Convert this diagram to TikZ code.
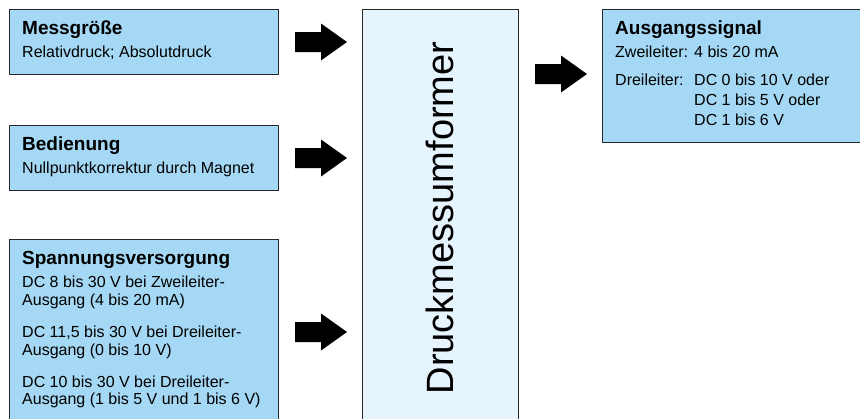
\documentclass[tikz,border=0pt]{standalone}
\usepackage{fontspec}
\setmainfont{Liberation Sans}
\definecolor{boxblue}{RGB}{164,216,244}
\definecolor{centerblue}{RGB}{230,244,253}
\definecolor{edgegray}{RGB}{40,40,40}
\tikzset{
  box/.style={draw=edgegray, line width=1.2pt, fill=boxblue, anchor=north west, inner sep=0pt},
  ttl/.style={anchor=base west, inner sep=0pt, font=\fontsize{19}{22}\selectfont\bfseries},
  txt/.style={anchor=base west, inner sep=0pt, font=\fontsize{16}{18}\selectfont},
  fatarrow/.pic={\fill[black] (0,-10) -- (26,-10) -- (26,-18.5) -- (52,0) -- (26,18.5) -- (26,10) -- (0,10) -- cycle;}
}
\begin{document}
\begin{tikzpicture}[x=1pt,y=-1pt]
\useasboundingbox (0,0) rectangle (860,418);
% boxes
\node[box, minimum width=269.5pt, minimum height=65pt] (b1) at (8.5,9) {};
\node[box, minimum width=269.5pt, minimum height=65pt] (b2) at (8.5,125) {};
\node[box, minimum width=269.5pt, minimum height=200pt] (b3) at (8.5,239) {};
\node[box, fill=centerblue, minimum width=156pt, minimum height=430pt] (dm) at (362,9) {};
\node[box, minimum width=270pt, minimum height=133pt] (b4) at (602,9) {};
% texts box 1
\node[ttl] (t1) at (22,34) {Messgröße};
\node[txt] (t1a) at (22,57) {Relativdruck; Absolutdruck};
% box 2
\node[ttl] (t2) at (22,150) {Bedienung};
\node[txt] (t2a) at (22,173) {Nullpunktkorrektur durch Magnet};
% box 3
\node[ttl] (t3) at (22,264) {Spannungsversorgung};
\node[txt] (t3a) at (22,287) {DC 8 bis 30 V bei Zweileiter-};
\node[txt] (t3b) at (22,305) {Ausgang (4 bis 20 mA)};
\node[txt] (t3c) at (22,337) {DC 11,5 bis 30 V bei Dreileiter-};
\node[txt] (t3d) at (22,355) {Ausgang (0 bis 10 V)};
\node[txt] (t3e) at (22,387) {DC 10 bis 30 V bei Dreileiter-};
\node[txt] (t3f) at (22,404) {Ausgang (1 bis 5 V und 1 bis 6 V)};
% box 4
\node[ttl] (t4) at (615,34) {Ausgangssignal};
\node[txt] (t4a) at (615,57) {Zweileiter:};
\node[txt] (t4b) at (694,57) {4 bis 20 mA};
\node[txt] (t4c) at (615,85) {Dreileiter:};
\node[txt] (t4d) at (694,85) {DC 0 bis 10 V oder};
\node[txt] (t4e) at (694,105) {DC 1 bis 5 V oder};
\node[txt] (t4f) at (694,125) {DC 1 bis 6 V};
% central label
\node[rotate=90, anchor=base, inner sep=0pt, font=\fontsize{38}{40}\selectfont] (dmt) at (453,218) {Druckmessumformer};
% block arrows
\pic (a1) at (295,42) {fatarrow};
\pic (a2) at (295,158) {fatarrow};
\pic (a3) at (295,332) {fatarrow};
\pic (a4) at (535,74) {fatarrow};
\end{tikzpicture}
\end{document}
